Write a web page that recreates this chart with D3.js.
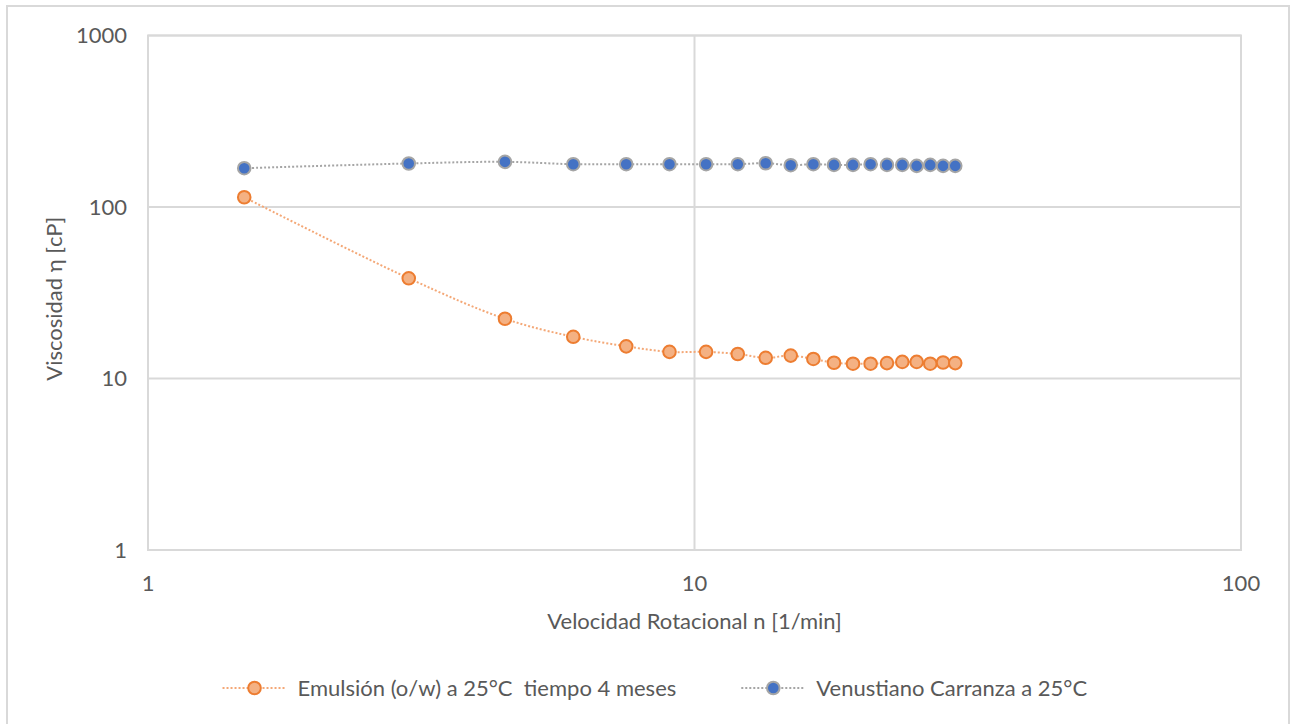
<!DOCTYPE html>
<meta charset="utf-8">
<style>
body { margin: 0; background: #fff; }
text { font-family: Lato, "Open Sans", sans-serif; fill: #595959; }
</style>
<svg width="1295" height="724"></svg>
<script src="https://d3js.org/d3.v7.min.js"></script>
<script>

// rotational speed [1/min]
var speed = [1.5, 3, 4.5, 6, 7.5, 9, 10.5, 12, 13.5, 15, 16.5, 18, 19.5, 21, 22.5, 24, 25.5, 27, 28.5, 30];
// viscosity [cP]
var emulsion = [114, 38.4, 22.3, 17.5, 15.4, 14.3, 14.3, 13.9, 13.2, 13.6, 13.0, 12.35, 12.2, 12.2, 12.3, 12.5, 12.5, 12.2, 12.4, 12.3];
var carranza = [168.4, 179.4, 183.4, 177.7, 177.7, 177.7, 177.7, 177.7, 180, 175.3, 177.7, 176, 176, 177.7, 176, 176, 173.7, 176, 173.7, 173.7];

var seriesNames = ["Emulsión (o/w) a 25°C  tiempo 4 meses", "Venustiano Carranza a 25°C"];
var xTicks = [1, 10, 100];
var yTicks = [1, 10, 100, 1000];

var svg = d3.select("svg"),
    margin = {top: 35.5, right: 54, bottom: 174, left: 148},
    width = +svg.attr("width") - margin.left - margin.right,
    height = +svg.attr("height") - margin.top - margin.bottom;

var grid = "#d9d9d9";

// outer chart border
svg.append("rect")
    .attr("x", 7).attr("y", 6)
    .attr("width", 1282).attr("height", 740)
    .attr("fill", "none")
    .attr("stroke", grid)
    .attr("stroke-width", 2);

var g = svg.append("g").attr("transform", "translate(" + margin.left + "," + margin.top + ")");

var x = d3.scaleLog().domain([1, 100]).range([0, width]);
var y = d3.scaleLog().domain([1, 1000]).range([height, 0]);

// gridlines
g.append("g").selectAll("line")
    .data(yTicks)
    .enter().append("line")
    .attr("x1", 0).attr("x2", width)
    .attr("y1", function(d) { return y(d); })
    .attr("y2", function(d) { return y(d); })
    .attr("stroke", grid).attr("stroke-width", 2);

g.append("g").selectAll("line")
    .data(xTicks)
    .enter().append("line")
    .attr("y1", 0).attr("y2", height)
    .attr("x1", function(d) { return x(d); })
    .attr("x2", function(d) { return x(d); })
    .attr("stroke", grid).attr("stroke-width", 2);

// tick labels
g.append("g").selectAll("text")
    .data(yTicks)
    .enter().append("text")
    .attr("x", -21)
    .attr("y", function(d) { return y(d); })
    .attr("dy", "0.36em")
    .attr("text-anchor", "end")
    .attr("font-size", 22)
    .text(function(d) { return d; });

g.append("g").selectAll("text")
    .data(xTicks)
    .enter().append("text")
    .attr("x", function(d) { return x(d); })
    .attr("y", height + 33)
    .attr("dy", "0.36em")
    .attr("text-anchor", "middle")
    .attr("font-size", 22)
    .text(function(d) { return d; });

// axis titles
g.append("text")
    .attr("x", width / 2)
    .attr("y", height + 71)
    .attr("dy", "0.36em")
    .attr("text-anchor", "middle")
    .attr("font-size", 22)
    .text("Velocidad Rotacional n [1/min]");

svg.append("text")
    .attr("transform", "translate(62," + (margin.top + height / 2 + 6) + ") rotate(-90)")
    .attr("text-anchor", "middle")
    .attr("font-size", 22)
    .text("Viscosidad η [cP]");

var series = [
  {name: seriesNames[0], values: emulsion, line: "#f4a877", fill: "#f4b183", stroke: "#ed7d31"},
  {name: seriesNames[1], values: carranza, line: "#a5a5a5", fill: "#4472c4", stroke: "#a5a5a5"}
];

var line = d3.line()
    .x(function(d) { return x(d[0]); })
    .y(function(d) { return y(d[1]); })
    .curve(d3.curveCatmullRom.alpha(0.5));

series.forEach(function(s) {
  var pts = speed.map(function(v, i) { return [v, s.values[i]]; });
  g.append("path")
      .datum(pts)
      .attr("d", line)
      .attr("fill", "none")
      .attr("stroke", s.line)
      .attr("stroke-width", 2)
      .attr("stroke-dasharray", "2,2");
  g.append("g").selectAll("circle")
      .data(pts)
      .enter().append("circle")
      .attr("cx", function(d) { return x(d[0]); })
      .attr("cy", function(d) { return y(d[1]); })
      .attr("r", 6.3)
      .attr("fill", s.fill)
      .attr("stroke", s.stroke)
      .attr("stroke-width", 2);
});

// legend
var legend = svg.append("g").attr("transform", "translate(0,688)");
var items = legend.selectAll("g")
    .data(series)
    .enter().append("g");

items.append("line")
    .attr("x1", 0).attr("x2", 64)
    .attr("stroke", function(d) { return d.line; })
    .attr("stroke-width", 2)
    .attr("stroke-dasharray", "2,2");
items.append("circle")
    .attr("cx", 32).attr("r", 6.3)
    .attr("fill", function(d) { return d.fill; })
    .attr("stroke", function(d) { return d.stroke; })
    .attr("stroke-width", 2);
items.append("text")
    .attr("x", 75)
    .attr("dy", "0.36em")
    .attr("font-size", 22)
    .style("white-space", "pre")
    .text(function(d) { return d.name; });

var widths = [];
items.each(function() { widths.push(this.getBBox().width); });
var gap = 65;
var total = d3.sum(widths) + gap;
var start = 655 - total / 2;
items.attr("transform", function(d, i) {
  return "translate(" + (i === 0 ? start : start + widths[0] + gap) + ",0)";
});

// plot area border
g.append("rect")
    .attr("width", width).attr("height", height)
    .attr("fill", "none")
    .attr("stroke", grid)
    .attr("stroke-width", 2);

</script>
